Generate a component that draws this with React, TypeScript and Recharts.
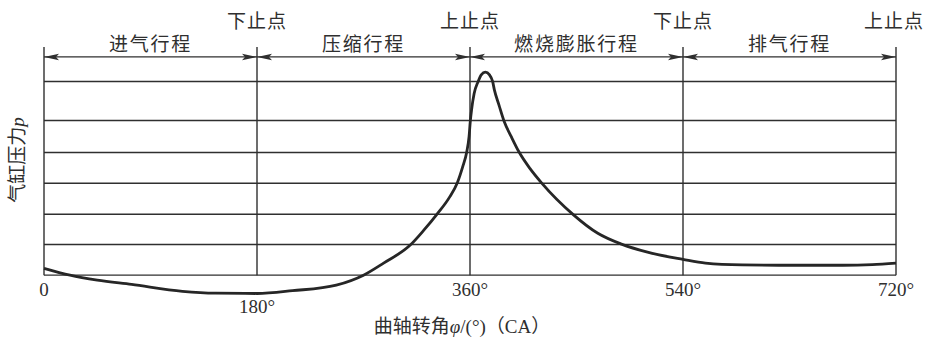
import { LineChart, Line, XAxis, YAxis, ReferenceLine, ReferenceDot } from "recharts";

document.body.style.margin = "0";

const CJK = '"Noto Sans CJK SC", "Noto Sans", sans-serif';
const SERIF = '"Liberation Serif", "DejaVu Serif", serif';
const INK = "#2f2f2f";

// crank angle (deg) vs cylinder pressure (arbitrary units, 1 unit = one grid row)
const crankAngle = [
  0, 22, 45, 74, 117, 145, 180, 210, 247, 270, 287, 309.5, 321, 332, 343, 349.3, 353.8, 357.2, 359.2,
  360.3, 361.3, 363.5, 366.9, 369.5, 373, 376.5, 379.1, 380.6, 384.5, 388.9, 394.9, 401.7, 410.6, 421,
  447, 468, 488, 510, 540, 559, 590, 621, 675, 700, 720,
];
const cylinderPressure = [
  0.22, 0, -0.16, -0.3, -0.52, -0.58, -0.59, -0.5, -0.32, 0, 0.39, 0.97, 1.45, 1.96, 2.53, 2.98, 3.49, 3.96, 4.46,
  4.98, 5.32, 5.85, 6.24, 6.45, 6.54, 6.45, 6.24, 5.97, 5.48, 4.95, 4.46, 3.95, 3.44, 2.95,
  1.96, 1.35, 1.0, 0.74, 0.51, 0.39, 0.33, 0.32, 0.32, 0.34, 0.39,
];

const gridLevels = [0, 0.99, 1.96, 2.96, 3.95, 4.98, 6.24];
const arrowLevel = 7.03;
const topLevel = 7.35;

const strokeBounds = [0, 180, 360, 540, 720];
const strokeNames = ["进气行程", "压缩行程", "燃烧膨胀行程", "排气行程"];
const deadCentreNames = ["下止点", "上止点", "下止点", "上止点"];
const tickLabels = ["0", "180°", "360°", "540°", "720°"];

const data = crankAngle.map((deg, i) => ({ deg, p: cylinderPressure[i] }));

const arrowTips = strokeBounds.flatMap((x, i) => {
  const tips: { x: number; dir: number }[] = [];
  if (i > 0) tips.push({ x, dir: 1 });
  if (i < strokeBounds.length - 1) tips.push({ x, dir: -1 });
  return tips;
});

const arrowHead = (dir: number) => (props: any) => {
  const { cx, cy } = props;
  const b = cx - dir * 15;
  const n = cx - dir * 12;
  return <path d={`M${cx},${cy} L${b},${cy - 3.2} L${n},${cy} L${b},${cy + 3.2} Z`} fill={INK} />;
};

const label =
  (content: React.ReactNode, dx: number, dy: number, style: React.CSSProperties) => (props: any) =>
    (
      <text x={props.cx + dx} y={props.cy + dy} textAnchor="middle" fill={INK} style={style}>
        {content}
      </text>
    );

const strokeStyle = { fontFamily: CJK, fontSize: 19, letterSpacing: 1.8 };
const centreStyle = { fontFamily: CJK, fontSize: 19, letterSpacing: 1 };
const tickStyle = { fontFamily: SERIF, fontSize: 19 };

const yTitle = (props: any) => {
  const x = props.cx - 20;
  const y = props.cy;
  return (
    <text x={x} y={y} textAnchor="middle" fill={INK} transform={`rotate(-90, ${x}, ${y})`} style={{ fontSize: 19 }}>
      <tspan fontFamily={CJK}>气缸压力</tspan>
      <tspan fontFamily={SERIF} fontStyle="italic">p</tspan>
    </text>
  );
};

const xTitle = (props: any) => (
  <text x={props.cx - 8} y={props.cy + 58} textAnchor="middle" fill={INK} style={{ fontSize: 19 }}>
    <tspan fontFamily={CJK}>曲轴转角</tspan>
    <tspan fontFamily={SERIF} fontStyle="italic">φ</tspan>
    <tspan fontFamily={SERIF}>/(°)</tspan>
    <tspan fontFamily={CJK}>（</tspan>
    <tspan fontFamily={SERIF}>CA</tspan>
    <tspan fontFamily={CJK}>）</tspan>
  </text>
);

export default function App() {
  return (
    <div style={{ width: 927, height: 340, background: "#fff" }}>
      <LineChart width={927} height={340} data={data} margin={{ top: 47, right: 31, bottom: 40, left: 44 }}>
        <XAxis type="number" dataKey="deg" domain={[0, 720]} hide />
        <YAxis type="number" domain={[-0.8, topLevel]} allowDataOverflow hide />

        {gridLevels.map((v) => (
          <ReferenceLine key={`h${v}`} y={v} stroke={INK} strokeWidth={1.4} ifOverflow="visible" />
        ))}
        <ReferenceLine y={arrowLevel} stroke={INK} strokeWidth={1.3} ifOverflow="visible" />
        {strokeBounds.map((x) => (
          <ReferenceLine
            key={`v${x}`}
            segment={[
              { x, y: 0 },
              { x, y: topLevel },
            ]}
            stroke={INK}
            strokeWidth={1.4}
            ifOverflow="visible"
          />
        ))}
        {arrowTips.map((t, i) => (
          <ReferenceDot key={`a${i}`} x={t.x} y={arrowLevel} r={0} ifOverflow="visible" shape={arrowHead(t.dir)} />
        ))}

        {strokeNames.map((name, i) => (
          <ReferenceDot
            key={`s${i}`}
            x={(strokeBounds[i] + strokeBounds[i + 1]) / 2}
            y={arrowLevel}
            r={0}
            ifOverflow="visible"
            shape={label(name, 0, -6, strokeStyle)}
          />
        ))}
        {deadCentreNames.map((name, i) => (
          <ReferenceDot
            key={`d${i}`}
            x={strokeBounds[i + 1]}
            y={topLevel}
            r={0}
            ifOverflow="visible"
            shape={label(name, i === 3 ? -2 : 0, -19, centreStyle)}
          />
        ))}
        {tickLabels.map((t, i) => (
          <ReferenceDot
            key={`t${i}`}
            x={strokeBounds[i]}
            y={0}
            r={0}
            ifOverflow="visible"
            shape={label(t, 0, strokeBounds[i] === 180 ? 38 : 21, tickStyle)}
          />
        ))}
        <ReferenceDot x={0} y={3.71} r={0} ifOverflow="visible" shape={yTitle} />
        <ReferenceDot x={360} y={0} r={0} ifOverflow="visible" shape={xTitle} />

        <Line
          type="monotone"
          dataKey="p"
          stroke="#262626"
          strokeWidth={2.8}
          dot={false}
          isAnimationActive={false}
        />
      </LineChart>
    </div>
  );
}
